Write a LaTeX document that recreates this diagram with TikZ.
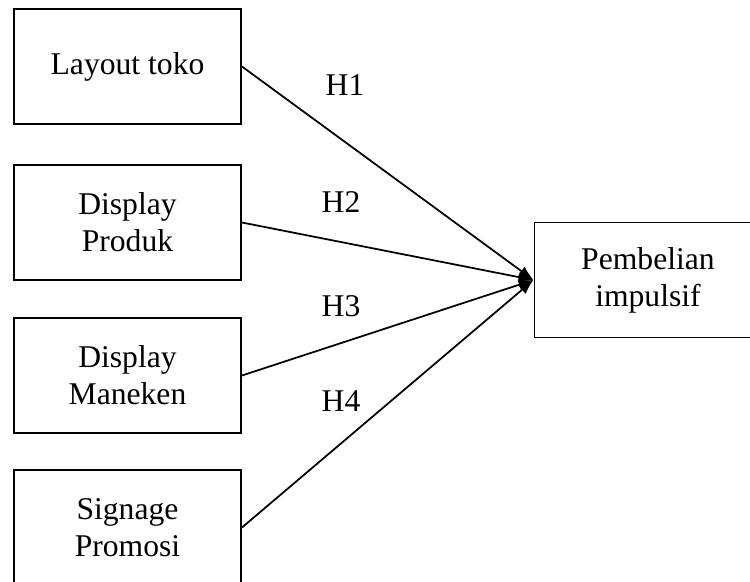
\documentclass[tikz,border=0pt]{standalone}
\usepackage{fontspec}
\setmainfont{Liberation Serif}
\usetikzlibrary{arrows.meta, positioning}

\tikzset{
	kotak/.style={draw, line width=1.1pt, minimum width=4.54cm, minimum height=2.3cm,
		align=center, inner sep=0pt, font=\fontsize{18}{21}\selectfont},
	hubung/.style={line width=1pt, -{Latex[length=3mm,width=2.2mm]}},
	hipotesis/.style={inner sep=0pt, font=\fontsize{18}{21}\selectfont}
}

\begin{document}
\begin{tikzpicture}
	\useasboundingbox (0,0) rectangle (15,-11.62);
	
	% variabel bebas
	\node[kotak] (layout)  at (2.55,-1.33)  {Layout toko};
	\node[kotak] (produk)  at (2.55,-4.45)  {Display\\Produk};
	\node[kotak] (maneken) at (2.55,-7.51)  {Display\\Maneken};
	\node[kotak] (signage) at (2.55,-10.55) {Signage\\Promosi};
	
	% variabel terikat
	\node[kotak] (impulsif) at (12.96,-5.6) {Pembelian\\impulsif};
	
	% garis hipotesis
	\foreach \v in {layout,produk,maneken,signage}
	\draw[hubung] (\v.east) -- (impulsif.west);
	
	% label H1 - H4
	\node[hipotesis] (h1) at (6.9,-1.71) {H1};
	\node[hipotesis] (h2) at (6.82,-4.04) {H2};
	\node[hipotesis] (h3) at (6.82,-6.12) {H3};
	\node[hipotesis] (h4) at (6.82,-8.02) {H4};
\end{tikzpicture}
\end{document}
